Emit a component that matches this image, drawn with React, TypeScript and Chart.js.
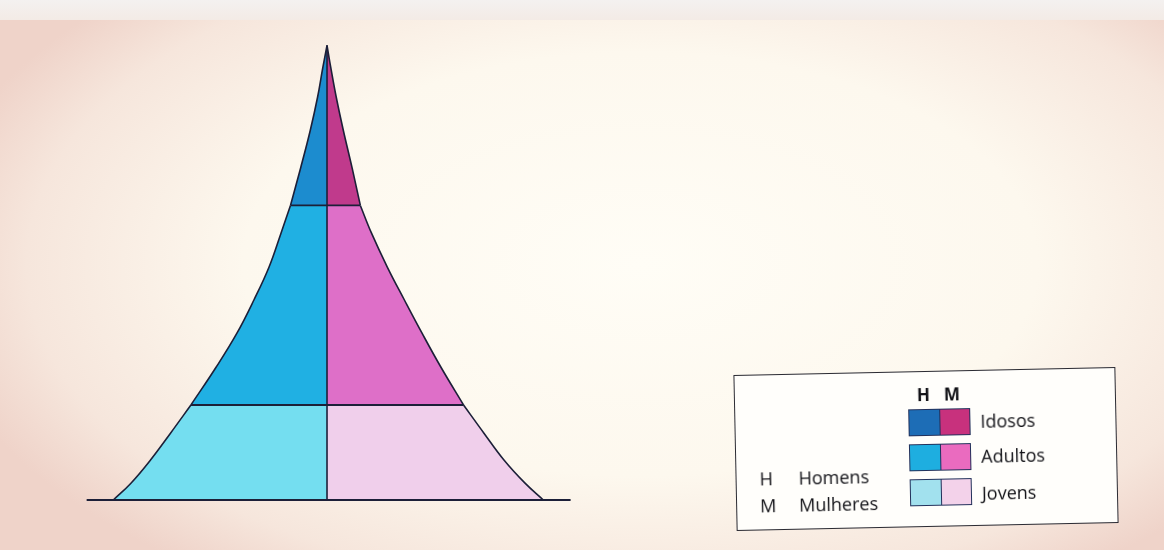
import React, { useEffect, useRef } from "react";
import { Chart, registerables } from "chart.js";

Chart.register(...registerables);

// Age levels (relative height of the pyramid) and half-widths
const ageLevels = [0, 3.7, 8.8, 14.7, 20.9, 29.2, 36.7, 44, 51.2, 58.7, 64.8, 73, 81.3, 88.6, 95, 100];
const homens = [99.4, 91.2, 82.1, 72.8, 63.3, 51.6, 41.9, 34.0, 27.0, 21.4, 17.0, 12.3, 7.8, 4.4, 2.0, 0];
const mulheres = [100.6, 92.1, 82.3, 73.0, 63.5, 53.0, 44.2, 36.0, 28.1, 20.7, 15.5, 11.7, 7.6, 4.3, 1.8, 0];

// Age groups: index ranges into ageLevels
const groups = ["Jovens", "Adultos", "Idosos"];
const groupStart = [0, 4, 10];
const groupEnd = [4, 10, 15];

// Colours of the pyramid regions
const colorsH = ["#74def0", "#20b0e3", "#1c8ccf"];
const colorsM = ["#f0cfeb", "#de6fc8", "#c03a8c"];

// Legend colours (top to bottom: Idosos, Adultos, Jovens)
const legendGroups = ["Idosos", "Adultos", "Jovens"];
const legendH = ["#1d6db6", "#1eaee0", "#a2e1ee"];
const legendM = ["#c8317d", "#ea6bbf", "#f3d2ea"];
const legendKeys = ["H", "M"];
const legendKeyNames = ["Homens", "Mulheres"];

// Base line extent
const baseLine = [-111.8, 113.3];

const LINE = "#1c1f38";

function regionData(side: number[], sign: number, g: number) {
  const pts: { x: number; y: number }[] = [];
  for (let i = groupStart[g]; i <= groupEnd[g]; i++) {
    pts.push({ x: sign * side[i], y: ageLevels[i] });
  }
  return pts;
}

export default function App() {
  const ref = useRef<HTMLCanvasElement | null>(null);

  useEffect(() => {
    if (!ref.current) return;
    const datasets: any[] = [];

    datasets.push({
      label: "base",
      data: [
        { x: baseLine[0], y: 0 },
        { x: baseLine[1], y: 0 },
      ],
      borderColor: LINE,
      borderWidth: 2,
      pointRadius: 0,
      fill: false,
      tension: 0,
    });
    datasets.push({
      label: "centro",
      data: [
        { x: 0, y: 0 },
        { x: 0, y: ageLevels[ageLevels.length - 1] },
      ],
      borderColor: LINE,
      borderWidth: 1.6,
      pointRadius: 0,
      fill: false,
      tension: 0,
    });
    [groupStart[1], groupStart[2]].forEach((idx) => {
      datasets.push({
        label: "div" + idx,
        data: [
          { x: -homens[idx], y: ageLevels[idx] },
          { x: mulheres[idx], y: ageLevels[idx] },
        ],
        borderColor: LINE,
        borderWidth: 1.8,
        pointRadius: 0,
        fill: false,
        tension: 0,
      });
    });

    groups.forEach((g, gi) => {
      datasets.push({
        label: "Homens " + g,
        data: regionData(homens, -1, gi),
        backgroundColor: colorsH[gi],
        borderColor: LINE,
        borderWidth: 1.6,
        pointRadius: 0,
        fill: { value: 0 },
        tension: 0.4,
      });
      datasets.push({
        label: "Mulheres " + g,
        data: regionData(mulheres, 1, gi),
        backgroundColor: colorsM[gi],
        borderColor: LINE,
        borderWidth: 1.6,
        pointRadius: 0,
        fill: { value: 0 },
        tension: 0.4,
      });
    });

    const chart = new Chart(ref.current, {
      type: "line",
      data: { datasets },
      options: {
        animation: false,
        responsive: false,
        devicePixelRatio: 1,
        indexAxis: "y",
        layout: { padding: 0 },
        plugins: {
          legend: { display: false },
          tooltip: { enabled: false },
        },
        scales: {
          x: { type: "linear", min: -152.1, max: 389.3, display: false },
          y: { type: "linear", min: -11, max: 110, display: false },
        },
      },
    } as any);
    return () => chart.destroy();
  }, []);

  const font = "'Open Sans', 'Noto Sans', sans-serif";
  const swTop = [37, 72, 107];
  const labelTop = [41, 76, 113];

  return (
    <div
      style={{
        position: "fixed",
        left: 0,
        top: 0,
        width: 1164,
        height: 550,
        overflow: "hidden",
        background:
          "radial-gradient(ellipse 62% 70% at 55% 48%, #fffdf6 0%, #fdf8ee 55%, #f6e6dc 85%, #efd3c9 100%)",
      }}
    >
      <div
        style={{
          position: "absolute",
          left: 0,
          top: 0,
          width: 1164,
          height: 20,
          background: "linear-gradient(#f4f1f0, #f3ebe6)",
        }}
      />
      <canvas
        ref={ref}
        width={1164}
        height={550}
        style={{ position: "absolute", left: 0, top: 0, width: 1164, height: 550 }}
      />
      <div
        style={{
          position: "absolute",
          left: 735,
          top: 371,
          width: 382,
          height: 156,
          boxSizing: "border-box",
          border: "1.5px solid #2b2b33",
          background: "#fffefb",
          transform: "rotate(-1.2deg)",
          fontFamily: font,
          color: "#111116",
        }}
      >
        {legendKeys.map((k, i) => (
          <div
            key={"hk" + k}
            style={{
              position: "absolute",
              left: i === 0 ? 182 : 209,
              top: 14,
              fontSize: 17,
              lineHeight: "17px",
              fontWeight: 700,
            }}
          >
            {k}
          </div>
        ))}
        {legendGroups.map((g, i) => (
          <React.Fragment key={g}>
            <div
              style={{
                position: "absolute",
                left: 173,
                top: swTop[i],
                width: 31,
                height: 27,
                boxSizing: "border-box",
                background: legendH[i],
                border: "1.5px solid #22305a",
                borderRight: "none",
              }}
            />
            <div
              style={{
                position: "absolute",
                left: 204,
                top: swTop[i],
                width: 31,
                height: 27,
                boxSizing: "border-box",
                background: legendM[i],
                border: "1.5px solid #22305a",
              }}
            />
            <div
              style={{
                position: "absolute",
                left: 245,
                top: labelTop[i],
                fontSize: 18,
                lineHeight: "18px",
                fontWeight: 500,
              }}
            >
              {g}
            </div>
          </React.Fragment>
        ))}
        {legendKeys.map((k, i) => (
          <React.Fragment key={"k" + k}>
            <div
              style={{
                position: "absolute",
                left: 23,
                top: 94 + i * 27,
                fontSize: 18,
                lineHeight: "18px",
                fontWeight: 500,
              }}
            >
              {k}
            </div>
            <div
              style={{
                position: "absolute",
                left: 62,
                top: 94 + i * 27,
                fontSize: 18,
                lineHeight: "18px",
                fontWeight: 500,
              }}
            >
              {legendKeyNames[i]}
            </div>
          </React.Fragment>
        ))}
      </div>
    </div>
  );
}
